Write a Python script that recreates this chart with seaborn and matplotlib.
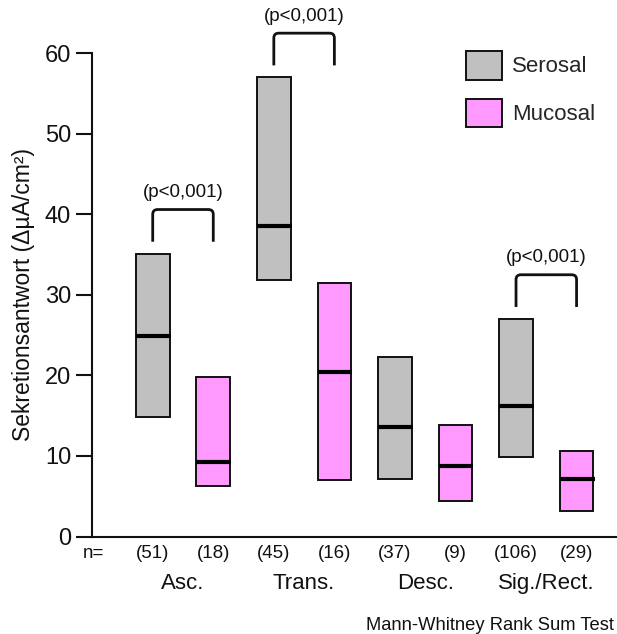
import matplotlib
matplotlib.use("Agg")
import matplotlib.pyplot as plt
from matplotlib.patches import Patch, PathPatch
from matplotlib.path import Path
import pandas as pd
import seaborn as sns

# Colon segments and tissue sides
segments = ["Asc.", "Trans.", "Desc.", "Sig./Rect."]
layers = ["Serosal", "Mucosal"]

# Secretory response ranges (lower edge, median, upper edge) in µA/cm²
serosal_low = [14.8, 31.9, 7.1, 9.9]
serosal_median = [24.9, 38.6, 13.6, 16.2]
serosal_high = [35.1, 57.0, 22.3, 27.0]

mucosal_low = [6.3, 7.0, 4.4, 3.2]
mucosal_median = [9.3, 20.4, 8.7, 7.1]
mucosal_high = [19.8, 31.5, 13.9, 10.6]

# Sample sizes
n_serosal = [51, 45, 37, 106]
n_mucosal = [18, 16, 9, 29]

# Segments with a significant serosal/mucosal difference
sig_segments = ["Asc.", "Trans.", "Sig./Rect."]
sig_label = "(p<0,001)"
test_note = "Mann-Whitney Rank Sum Test"

y_ticks = [0, 10, 20, 30, 40, 50, 60]
palette = {"Serosal": "#c0c0c0", "Mucosal": "#ff99ff"}
edge = "#111111"

rows = []
for layer, lows, meds, highs, ns in [
    ("Serosal", serosal_low, serosal_median, serosal_high, n_serosal),
    ("Mucosal", mucosal_low, mucosal_median, mucosal_high, n_mucosal),
]:
    for seg, lo, md, hi, n in zip(segments, lows, meds, highs, ns):
        rows.append(dict(segment=seg, layer=layer, low=lo, median=md,
                         high=hi, span=hi - lo, n=n))
df = pd.DataFrame(rows)

sns.set_theme(style="white")
plt.rcParams["font.family"] = ["Liberation Sans", "DejaVu Sans"]

W, H = 617, 634
fig = plt.figure(figsize=(W / 100, H / 100), dpi=100)
ax = fig.add_axes([92 / W, (H - 536.5) / H, (W - 92) / W, (536.5 - 53.3) / H])

sns.barplot(data=df, x="segment", y="span", hue="layer", order=segments,
            hue_order=layers, palette=palette, width=1.0, gap=0.445,
            edgecolor=edge, linewidth=1.4, errorbar=None, legend=False,
            saturation=1, ax=ax)

# Float each bar between its lower and upper edge, then mark the median
centers = {}
for container, layer in zip(ax.containers, layers):
    sub = df[df["layer"] == layer].set_index("segment").loc[segments]
    for patch, seg in zip(container.patches, segments):
        patch.set_y(sub.loc[seg, "low"])
        x0 = patch.get_x()
        x1 = x0 + patch.get_width()
        ax.plot([x0, x1 + 0.01], [sub.loc[seg, "median"]] * 2, color="black",
                lw=3.0, solid_capstyle="butt", zorder=4)
        cx = x0 + patch.get_width() / 2
        centers[(seg, layer)] = cx
        ax.text(cx, -2.05, f"({sub.loc[seg, 'n']})", ha="center", va="center",
                fontsize=13.5, color="#111111", clip_on=False)

ax.text(-0.743, -2.05, "n=", ha="center", va="center", fontsize=13.5,
        color="#111111", clip_on=False)

# Segment names below the sample sizes
for i, seg in enumerate(segments):
    ax.text(i, -5.8, seg, ha="center", va="center", fontsize=16,
            color="#111111", clip_on=False)

# Significance brackets with rounded corners
rx, ry = 0.04, 0.6
for seg in sig_segments:
    xl = centers[(seg, "Serosal")]
    xr = centers[(seg, "Mucosal")]
    sub = df[df["segment"] == seg]
    leg = sub["high"].max() + 1.5
    top = leg + 4.0
    verts = [(xl, leg), (xl, top - ry), (xl, top), (xl + rx, top),
             (xr - rx, top), (xr, top), (xr, top - ry), (xr, leg)]
    codes = [Path.MOVETO, Path.LINETO, Path.CURVE3, Path.CURVE3,
             Path.LINETO, Path.CURVE3, Path.CURVE3, Path.LINETO]
    ax.add_patch(PathPatch(Path(verts, codes), fill=False, lw=2.0,
                           edgecolor="#111111", clip_on=False, zorder=5))
    ax.text((xl + xr) / 2, top + 2.1, sig_label, ha="center", va="center",
            fontsize=13.5, color="#111111", clip_on=False)

ax.set_xlim((92 - 183) / 121.1, (617 - 183) / 121.1)
ax.set_ylim(0, 60)
ax.set_yticks(y_ticks)
ax.set_yticklabels([str(t) for t in y_ticks])
ax.set_xticks([])
ax.set_xlabel("")
ax.set_ylabel("Sekretionsantwort (ΔµA/cm²)", fontsize=16.5, color="#111111")
ax.yaxis.set_label_coords(-0.108, 0.5)

ax.tick_params(axis="y", which="major", direction="out", length=11.5,
               width=1.5, colors="#111111", labelsize=17, pad=3.6, left=True)
sns.despine(ax=ax, top=True, right=True)
for side in ("left", "bottom"):
    ax.spines[side].set_color("#111111")
    ax.spines[side].set_linewidth(1.5)

handles = [Patch(facecolor=palette[l], edgecolor=edge, linewidth=1.4, label=l)
           for l in layers]
ax.legend(handles=handles, loc="upper left",
          bbox_to_anchor=(466 / W, 1 - 50.7 / H), bbox_transform=fig.transFigure,
          frameon=False, fontsize=16, handlelength=1.62, handleheight=1.62,
          handletextpad=0.45, labelspacing=0.86, borderpad=0, borderaxespad=0)

# Test note, kept fully inside the right figure edge
fig.text((W - 3) / W, (H - 625) / H, test_note, ha="right", va="center",
         fontsize=13.2, color="#111111")

fig.savefig("out.png", dpi=100)
